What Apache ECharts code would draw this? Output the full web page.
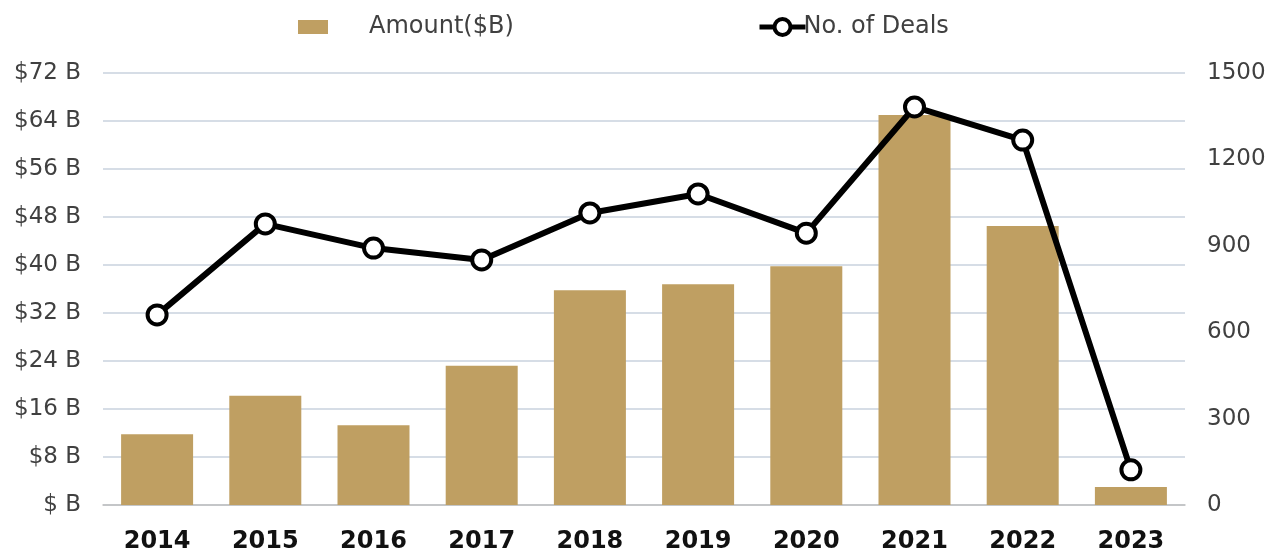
<!DOCTYPE html>
<html>
<head>
<meta charset="utf-8">
<script src="https://cdn.jsdelivr.net/npm/echarts@6/dist/echarts.min.js"></script>
<style>
  html, body { margin: 0; padding: 0; background: #fff; }
  #main { width: 1282px; height: 559px; }
</style>
</head>
<body>
<div id="main"></div>
<script>
// chart data
var years = ['2014', '2015', '2016', '2017', '2018', '2019', '2020', '2021', '2022', '2023'];
var amount = [11.8, 18.2, 13.3, 23.2, 35.8, 36.8, 39.8, 65, 46.5, 3];
var deals = [660, 976, 892, 851, 1014, 1080, 944, 1382, 1267, 122];

var chart = echarts.init(document.getElementById('main'));
var font = '"DejaVu Sans", sans-serif';

var option = {
  animation: false,
  textStyle: { fontFamily: font },
  legend: [{
    data: ['Amount($B)'],
    icon: 'rect',
    left: 293,
    top: 10,
    itemWidth: 30,
    itemHeight: 14,
    textStyle: { fontSize: 24, color: '#404040', padding: [0, 0, 0, 36] }
  }, {
    data: ['No. of Deals'],
    left: 752,
    top: 10,
    itemWidth: 46,
    itemHeight: 20,
    lineStyle: { width: 5, color: '#000' },
    itemStyle: { color: '#fff', borderColor: '#000', borderWidth: 4 },
    textStyle: { fontSize: 24, color: '#404040', padding: [0, 0, 0, -7] }
  }],
  grid: {
    left: 103,
    right: 97,
    top: 73,
    bottom: 54
  },
  xAxis: {
    type: 'category',
    data: years,
    axisLine: { lineStyle: { color: '#bfbfbf', width: 1.5 } },
    axisTick: { show: false },
    axisLabel: {
      fontSize: 24,
      fontWeight: 'bold',
      color: '#111',
      margin: 25
    }
  },
  yAxis: [{
    type: 'value',
    min: 0,
    max: 72,
    interval: 8,
    axisLabel: {
      fontSize: 23,
      color: '#404040',
      margin: 22,
      formatter: function (v) { return '$' + (v === 0 ? '' : v) + ' B'; }
    },
    splitLine: { lineStyle: { color: '#c9d2de', width: 1.5 } }
  }, {
    type: 'value',
    min: 0,
    max: 1500,
    interval: 300,
    axisLabel: {
      fontSize: 23,
      color: '#404040',
      margin: 22,
      formatter: function (v) { return String(v); }
    },
    splitLine: { show: false }
  }],
  series: [{
    name: 'Amount($B)',
    type: 'bar',
    data: amount,
    barWidth: 72,
    itemStyle: { color: '#bf9f62' }
  }, {
    name: 'No. of Deals',
    type: 'line',
    yAxisIndex: 1,
    data: deals,
    symbol: 'circle',
    symbolSize: 19,
    lineStyle: { color: '#000', width: 6 },
    itemStyle: { color: '#fff', borderColor: '#000', borderWidth: 4 }
  }]
};

chart.setOption(option);
</script>
</body>
</html>
